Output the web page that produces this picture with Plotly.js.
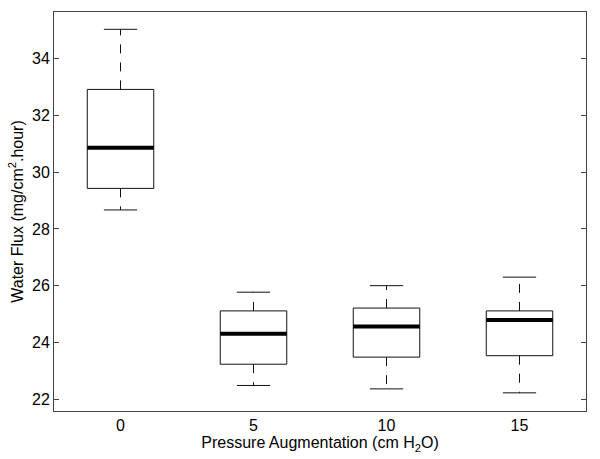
<!DOCTYPE html>
<html>
<head>
<meta charset="utf-8">
<script src="https://cdn.plot.ly/plotly-3.0.1.min.js"></script>
<style>
  body { margin: 0; background: #fff; }
  #chart { width: 600px; height: 459px; }
</style>
</head>
<body>
<div id="chart"></div>
<script>
// box statistics
var groups = ["0", "5", "10", "15"];
var lowerWhisker = [28.67, 22.48, 22.36, 22.22];
var q1 = [29.43, 23.23, 23.48, 23.53];
var medians = [30.86, 24.30, 24.56, 24.79];
var q3 = [32.92, 25.11, 25.21, 25.11];
var upperWhisker = [35.04, 25.77, 26.00, 26.30];

var halfBox = 0.25;
var halfCap = 0.125;

// build line segments for each part, separated by nulls
var boxX = [], boxY = [], medX = [], medY = [], whiskX = [], whiskY = [], capX = [], capY = [];
groups.forEach(function (g, i) {
  var x0 = i - halfBox, x1 = i + halfBox;
  boxX.push(x0, x1, x1, x0, x0, null);
  boxY.push(q1[i], q1[i], q3[i], q3[i], q1[i], null);
  medX.push(x0, x1, null);
  medY.push(medians[i], medians[i], null);
  whiskX.push(i, i, null, i, i, null);
  whiskY.push(q3[i], upperWhisker[i], null, q1[i], lowerWhisker[i], null);
  capX.push(i - halfCap, i + halfCap, null, i - halfCap, i + halfCap, null);
  capY.push(upperWhisker[i], upperWhisker[i], null, lowerWhisker[i], lowerWhisker[i], null);
});

var whiskers = {
  x: whiskX, y: whiskY, mode: "lines", type: "scatter",
  line: { color: "#111", width: 1, dash: "9px,9px" }, hoverinfo: "skip"
};
var caps = {
  x: capX, y: capY, mode: "lines", type: "scatter",
  line: { color: "#111", width: 1 }, hoverinfo: "skip"
};
var boxes = {
  x: boxX, y: boxY, mode: "lines", type: "scatter",
  line: { color: "#111", width: 1 }, hoverinfo: "skip"
};
var meds = {
  x: medX, y: medY, mode: "lines", type: "scatter",
  line: { color: "#000", width: 4 }, hoverinfo: "skip"
};

var data = [whiskers, caps, boxes, meds];

var layout = {
  width: 600,
  height: 459,
  margin: { l: 54, r: 14, t: 12, b: 48 },
  showlegend: false,
  paper_bgcolor: "#fff",
  plot_bgcolor: "#fff",
  font: { family: "Liberation Sans, Arial, sans-serif", size: 16, color: "#000" },
  xaxis: {
    range: [-0.5, 3.5],
    tickvals: [0, 1, 2, 3],
    ticktext: groups,
    ticks: "",
    showgrid: false,
    zeroline: false,
    showline: true,
    mirror: true,
    linecolor: "#444",
    linewidth: 1,
    tickfont: { size: 16 },
    title: { text: "Pressure Augmentation (cm H<sub>2</sub>O)", font: { size: 16 }, standoff: 0 }
  },
  yaxis: {
    range: [21.58, 35.65],
    tickvals: [22, 24, 26, 28, 30, 32, 34],
    ticks: "inside",
    ticklen: 5,
    tickcolor: "#444",
    showgrid: false,
    zeroline: false,
    showline: true,
    mirror: "ticks",
    linecolor: "#444",
    linewidth: 1,
    tickfont: { size: 16 },
    title: { text: "Water Flux (mg/cm<sup>2</sup>.hour)", font: { size: 16 }, standoff: 4 }
  }
};

Plotly.newPlot("chart", data, layout, { displayModeBar: false, staticPlot: true });
</script>
</body>
</html>
